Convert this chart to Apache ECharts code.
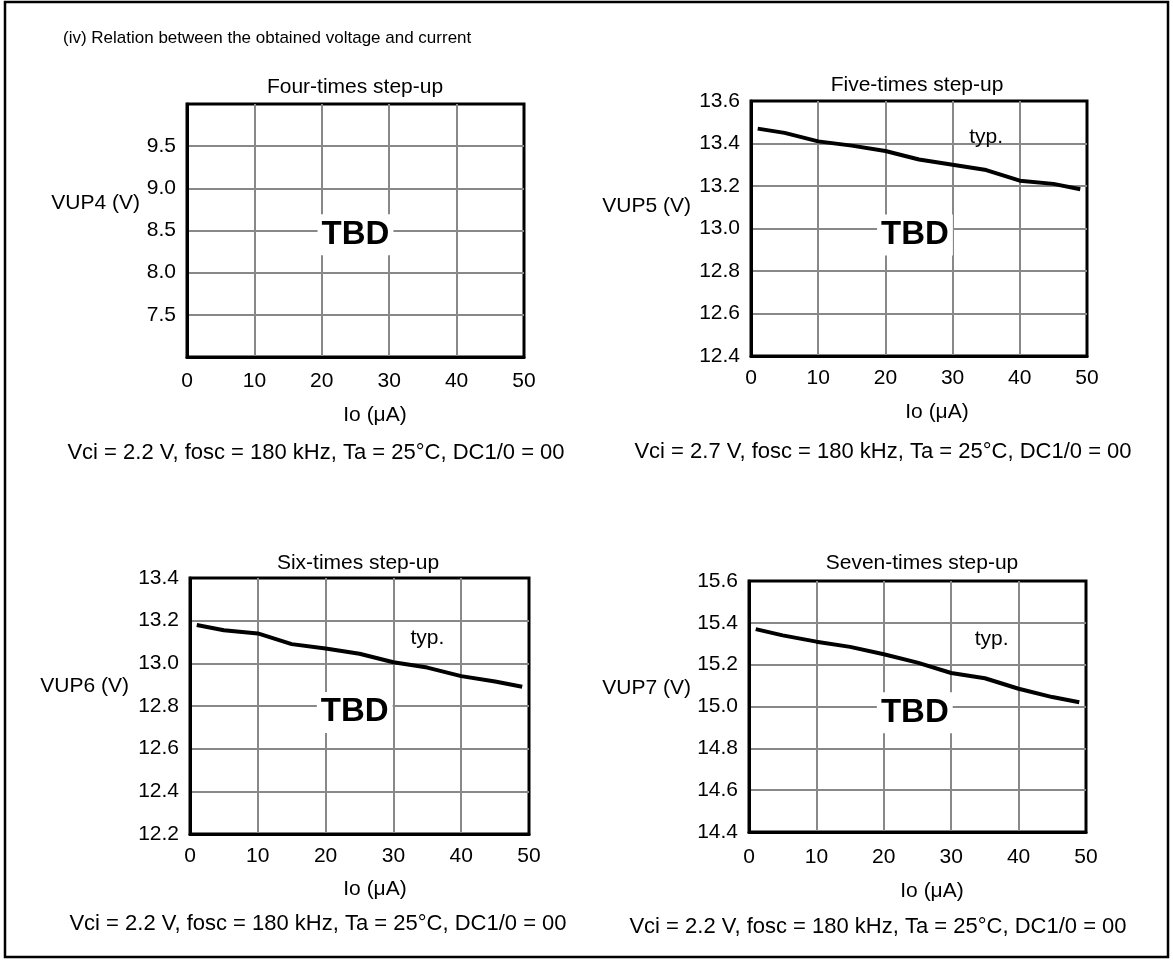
<!DOCTYPE html>
<html>
<head>
<meta charset="utf-8">
<script src="https://cdn.jsdelivr.net/npm/echarts@6/dist/echarts.min.js"></script>
<style>
html,body{margin:0;padding:0;background:#fff;}
#chart{width:1173px;height:965px;}
</style>
</head>
<body>
<div id="chart"></div>
<script>
// ---- data ----
const panelTitles = ['Four-times step-up', 'Five-times step-up', 'Six-times step-up', 'Seven-times step-up'];
const yNames = ['VUP4 (V)', 'VUP5 (V)', 'VUP6 (V)', 'VUP7 (V)'];
const xName = 'Io (\u03bcA)';
const conditions = [
  'Vci = 2.2 V, fosc = 180 kHz, Ta = 25\u00b0C, DC1/0 = 00',
  'Vci = 2.7 V, fosc = 180 kHz, Ta = 25\u00b0C, DC1/0 = 00',
  'Vci = 2.2 V, fosc = 180 kHz, Ta = 25\u00b0C, DC1/0 = 00',
  'Vci = 2.2 V, fosc = 180 kHz, Ta = 25\u00b0C, DC1/0 = 00'
];
const heading = '(iv) Relation between the obtained voltage and current';
const xTicks = [0, 10, 20, 30, 40, 50];
const yRanges = [[7.0, 10.0, 0.5], [12.4, 13.6, 0.2], [12.2, 13.4, 0.2], [14.4, 15.6, 0.2]];

const io5 = [1, 5, 10, 15, 20, 25, 30, 35, 40, 45, 49];
const vup5 = [13.47, 13.45, 13.41, 13.39, 13.365, 13.325, 13.30, 13.275, 13.225, 13.21, 13.185];
const io6 = [1, 5, 10, 15, 20, 25, 30, 35, 40, 45, 49];
const vup6 = [13.18, 13.155, 13.14, 13.09, 13.07, 13.045, 13.005, 12.98, 12.94, 12.915, 12.89];
const io7 = [1, 5, 10, 15, 20, 25, 30, 35, 40, 45, 49];
const vup7 = [15.37, 15.34, 15.31, 15.285, 15.25, 15.21, 15.16, 15.135, 15.085, 15.045, 15.02];

const tbdText = 'TBD';
const typText = 'typ.';

// ---- layout ----
const FONT = '"Liberation Sans", Arial, sans-serif';
const FS = 21;
const FS_COND = 22;
const grids = [
  {left: 187, top: 104, width: 337, height: 253},
  {left: 751, top: 101, width: 336, height: 255},
  {left: 190, top: 578, width: 339, height: 256},
  {left: 749, top: 581, width: 337, height: 251}
];
const xLabelMargin = [14, 12, 12, 15];
const titlePos = [[355, 87], [917, 85], [358, 563], [922, 563]];
const xNamePos = [[375, 415], [937, 412], [375, 889], [932, 891]];
const yNamePos = [[140, 203], [691, 206], [129, 686], [691, 688]];
const condPos = [[316, 453], [883, 452], [318, 924], [878, 927]];
const tbdAnchor = [[25, 8.45], [24.4, 12.97], [24.3, 12.77], [24.6, 14.97]];
const typAnchor = [null, [35, 13.43], [35, 13.12], [36, 15.32]];

const chart = echarts.init(document.getElementById('chart'), null, {renderer: 'canvas'});

const xAxes = grids.map((g, i) => ({
  gridIndex: i, type: 'value', min: xTicks[0], max: xTicks[xTicks.length - 1],
  interval: xTicks[1] - xTicks[0],
  axisLine: {show: true, onZero: false, lineStyle: {color: '#000', width: 3}},
  axisTick: {show: false},
  axisLabel: {color: '#000', fontSize: FS, fontFamily: FONT, margin: xLabelMargin[i]},
  splitLine: {show: true, showMinLine: false, showMaxLine: false, lineStyle: {color: '#888', width: 2}}
}));
const yAxes = grids.map((g, i) => ({
  gridIndex: i, type: 'value', min: yRanges[i][0], max: yRanges[i][1], interval: yRanges[i][2],
  axisLine: {show: true, onZero: false, lineStyle: {color: '#000', width: 3}},
  axisTick: {show: false},
  axisLabel: {
    color: '#000', fontSize: FS, fontFamily: FONT, margin: 11,
    showMinLabel: i !== 0, showMaxLabel: i !== 0,
    formatter: v => v.toFixed(1)
  },
  splitLine: {show: true, showMinLine: false, showMaxLine: false, lineStyle: {color: '#888', width: 2}}
}));

const lineData = [null, [io5, vup5], [io6, vup6], [io7, vup7]];
const series = [];
lineData.forEach((d, i) => {
  if (!d) return;
  series.push({
    type: 'line', xAxisIndex: i, yAxisIndex: i,
    data: d[0].map((x, k) => [x, d[1][k]]),
    showSymbol: false, symbol: 'none',
    lineStyle: {color: '#000', width: 4},
    z: 5, silent: true
  });
});
const labelCommon = {textBorderWidth: 0, textBorderColor: 'transparent', textShadowBlur: 0};
tbdAnchor.forEach((p, i) => {
  series.push({
    type: 'scatter', xAxisIndex: i, yAxisIndex: i, data: [p], symbolSize: 0, silent: true, z: 10,
    itemStyle: {opacity: 1, color: '#000'},
    label: Object.assign({
      show: true, position: 'inside', formatter: tbdText,
      fontSize: 33, fontWeight: 'bold', fontFamily: FONT, color: '#000',
      backgroundColor: '#fff', padding: [5, 4, 3, 4]
    }, labelCommon)
  });
});
typAnchor.forEach((p, i) => {
  if (!p) return;
  series.push({
    type: 'scatter', xAxisIndex: i, yAxisIndex: i, data: [p], symbolSize: 0, silent: true, z: 10,
    itemStyle: {opacity: 1, color: '#000'},
    label: Object.assign({show: true, position: 'inside', formatter: typText, fontSize: FS, fontFamily: FONT, color: '#000'}, labelCommon)
  });
});

const graphics = [
  {type: 'rect', shape: {x: 5, y: 2, width: 1163, height: 955}, style: {fill: 'none', stroke: '#000', lineWidth: 2.5}, z: 100},
  {type: 'text', x: 63, y: 38, style: {text: heading, font: '17px ' + FONT, fill: '#000', textAlign: 'left', textVerticalAlign: 'middle'}}
];
for (let i = 0; i < 4; i++) {
  graphics.push({type: 'text', x: titlePos[i][0], y: titlePos[i][1], style: {text: panelTitles[i], font: FS + 'px ' + FONT, fill: '#000', textAlign: 'center', textVerticalAlign: 'middle'}});
  graphics.push({type: 'text', x: xNamePos[i][0], y: xNamePos[i][1], style: {text: xName, font: FS + 'px ' + FONT, fill: '#000', textAlign: 'center', textVerticalAlign: 'middle'}});
  graphics.push({type: 'text', x: yNamePos[i][0], y: yNamePos[i][1], style: {text: yNames[i], font: FS + 'px ' + FONT, fill: '#000', textAlign: 'right', textVerticalAlign: 'middle'}});
  graphics.push({type: 'text', x: condPos[i][0], y: condPos[i][1], style: {text: conditions[i], font: FS_COND + 'px ' + FONT, fill: '#000', textAlign: 'center', textVerticalAlign: 'middle'}});
}

chart.setOption({
  animation: false,
  backgroundColor: '#fff',
  grid: grids.map(g => Object.assign({show: true, borderColor: '#000', borderWidth: 3, backgroundColor: 'transparent', containLabel: false}, g)),
  xAxis: xAxes,
  yAxis: yAxes,
  series: series,
  graphic: graphics
});
</script>
</body>
</html>
